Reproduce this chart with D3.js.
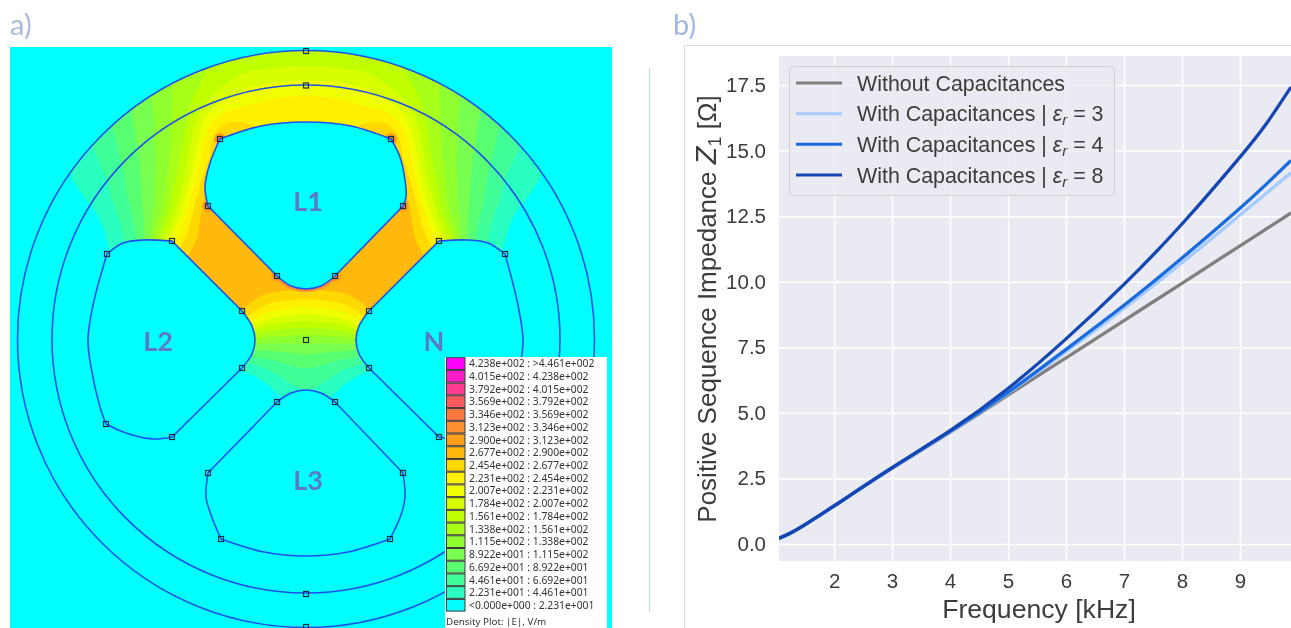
<!DOCTYPE html>
<html><head><meta charset="utf-8">
<script src="https://cdnjs.cloudflare.com/ajax/libs/d3/7.8.5/d3.min.js"></script>
<style>html,body{margin:0;padding:0;background:#fff;overflow:hidden}svg{display:block;filter:blur(0.45px)}</style>
</head><body><svg id="c" width="1291" height="628"></svg>
<script>
// ---------- panel b data ----------
const freq   = [1.05,1.25,1.5,2,3,4,5,6,7,8,9,9.46,9.88];
const zNoCap = [0.22,0.42,0.74,1.45,2.88,4.26,5.68,7.10,8.52,9.94,11.37,12.02,12.62];
const zEps3  = [0.22,0.42,0.74,1.45,2.89,4.28,5.75,7.33,8.98,10.72,12.54,13.38,14.15];
const zEps4  = [0.22,0.42,0.74,1.45,2.90,4.29,5.78,7.42,9.10,10.90,12.80,13.73,14.62];
const zEps8  = [0.22,0.42,0.74,1.45,2.91,4.32,5.93,7.82,9.90,12.20,14.75,16.04,17.42];
const seriesNames  = ["Without Capacitances","With Capacitances | ","With Capacitances | ","With Capacitances | "];
const seriesEps    = [null,"3","4","8"];
const seriesColors = ["#808080","#a6cbff","#1a6be0","#1446b4"];
const xTicks = [2,3,4,5,6,7,8,9];
const yTicks = [0,2.5,5,7.5,10,12.5,15,17.5];

// ---------- panel a data ----------
const legendLow  = ["4.238e+002","4.015e+002","3.792e+002","3.569e+002","3.346e+002","3.123e+002","2.900e+002","2.677e+002","2.454e+002","2.231e+002","2.007e+002","1.784e+002","1.561e+002","1.338e+002","1.115e+002","8.922e+001","6.692e+001","4.461e+001","2.231e+001","<0.000e+000"];
const legendHigh = [">4.461e+002","4.238e+002","4.015e+002","3.792e+002","3.569e+002","3.346e+002","3.123e+002","2.900e+002","2.677e+002","2.454e+002","2.231e+002","2.007e+002","1.784e+002","1.561e+002","1.338e+002","1.115e+002","8.922e+001","6.692e+001","4.461e+001","2.231e+001"];
const legendColors = ["#ff00ff","#ff1cc8","#ff3c90","#ff5a60","#ff7840","#ff9030","#ffa018","#ffb80c","#ffd800","#fff000","#f0ff00","#d8ff00","#c0ff00","#a8ff18","#90ff30","#78ff50","#58ff70","#40ff98","#28ffc0","#00ffff"];
const densityTitle = "Density Plot: |E|, V/m";
// |E| on a grid (left half + axis; the geometry is mirror-symmetric)
const gridDx = [0,20,40,60,80,100,120,140,160,180,200,220,240,260];
const gridY  = [-300,-280,-260,-240,-220,-200,-180,-160,-140,-120,-100,-80,-60,-40,-20,0,20,40,60,80];
const fieldE = [
 [160,160,160,158,155,150,143,127,108,90,68,45,22,6],
 [168,168,165,162,160,153,145,128,108,90,68,45,22,6],
 [200,198,195,190,172,158,143,131,108,88,68,45,22,6],
 [232,230,226,215,200,175,145,128,104,87,70,50,25,5],
 [238,238,238,242,245,210,150,127,100,83,62,44,22,5],
 [240,240,245,265,285,235,155,127,101,78,56,42,22,4],
 [240,240,245,250,255,250,168,125,97,72,52,34,19,3],
 [245,245,250,255,265,270,178,132,95,68,40,30,21,3],
 [260,265,270,275,285,285,207,130,95,64,36,23,8,2],
 [270,275,285,285,285,285,235,148,92,52,27,8,3,0],
 [285,285,285,285,285,282,252,200,85,45,20,5,0,0],
 [288,288,285,285,285,283,275,240,80,40,15,0,0,0],
 [289,289,288,285,285,285,280,240,30,10,0,0,0,0],
 [245,250,258,282,285,285,270,120,10,0,0,0,0,0],
 [178,188,200,250,260,180,30,0,0,0,0,0,0,0],
 [117,117,118,130,80,20,0,0,0,0,0,0,0,0],
 [78,72,60,50,20,0,0,0,0,0,0,0,0,0],
 [55,47,24,3,0,0,0,0,0,0,0,0,0,0],
 [40,25,3,0,0,0,0,0,0,0,0,0,0,0],
 [0,0,0,0,0,0,0,0,0,0,0,0,0,0]
];
const bandThresholds = [22.31,44.61,66.92,89.22,111.5,133.8,156.1,178.4,200.7,223.1,245.4,267.7,290,312.3,334.6,356.9,379.2,401.5,423.8];
const ringRadii = [288.5,254];
const slotL1 = [
 [[-86,-201],[-45,-214],[0,-218],[45,-214],[85,-201]],
 [[85,-201],[94,-183],[99,-160],[100,-143],[97,-134]],
 [[97,-134],[29,-64]],
 [[29,-64],[15,-54],[0,-51],[-15,-54],[-29,-64]],
 [[-29,-64],[-98,-134]],
 [[-98,-134],[-101,-153],[-96,-177],[-86,-201]]
];
const slotL3 = [
 [[-29,62],[-15,53],[0,50],[15,53],[29,62]],
 [[29,62],[97,133]],
 [[97,133],[99,157],[95,175],[84,199]],
 [[84,199],[42,212],[0,216],[-42,212],[-85,199]],
 [[-85,199],[-95,175],[-100,157],[-98,133]],
 [[-98,133],[-29,62]]
];
const slotL2 = [
 [[-134,-99],[-163,-100],[-183,-97],[-199,-86]],
 [[-199,-86],[-213,-35],[-218,0],[-215,27],[-206,67],[-200,84]],
 [[-200,84],[-180,93],[-153,99],[-134,97]],
 [[-134,97],[-64,28]],
 [[-64,28],[-54,14],[-51,0],[-54,-14],[-64,-29]],
 [[-64,-29],[-134,-99]]
];
const slotN = [
 [[133,-99],[162,-100],[182,-97],[199,-86]],
 [[199,-86],[212,-35],[217,0],[214,27],[205,67],[199,84]],
 [[199,84],[180,93],[153,99],[133,97]],
 [[133,97],[63,28]],
 [[63,28],[53,14],[50,0],[53,-14],[63,-29]],
 [[63,-29],[133,-99]]
];
const hotCorners = [[-86,-201],[85,-201],[-98,-134],[97,-134],[-29,-64],[29,-64]];
const extraNodes = [[0,-289],[0,-254.5],[0,0],[0,254],[0,287]];
const slotLabels = [["L1",2,-140],["L2",-148,0],["N",128,0],["L3",2,139]];

const svg = d3.select("#c");
const defs = svg.append("defs");

// ---------- panel a ----------
const femX = d3.scaleLinear().domain([-296,306]).range([10,612]);
const femY = d3.scaleLinear().domain([-293,288]).range([47,628]);
const femR = d3.scaleLinear().domain([0,100]).range([0,100]);

svg.append("text").attr("x",10).attr("y",35).attr("font-family","Lato").attr("font-size",29).attr("fill","#a9bbdc").text("a)");
svg.append("text").attr("x",673).attr("y",35).attr("font-family","Lato").attr("font-size",29).attr("fill","#9fb8e6").text("b)");

defs.append("clipPath").attr("id","panelA").append("rect")
  .attr("x",femX(-296)).attr("y",femY(-293)).attr("width",femX(306)-femX(-296)).attr("height",femY(288)-femY(-293));
defs.append("clipPath").attr("id","disk").append("circle")
  .attr("cx",femX(0)).attr("cy",femY(-1)).attr("r",femR(ringRadii[0]));

const fem = svg.append("g").attr("clip-path","url(#panelA)");
fem.append("rect").attr("x",femX(-296)).attr("y",femY(-293)).attr("width",602).attr("height",581).attr("fill","#00ffff");

// mirror the half grid into a full one, refine it for drawing and contour it
const baseCols = gridDx.length*2-1;
const baseRows = gridY.length;
const base = fieldE.map(row=>row.slice(1).reverse().concat(row));
const refine = 4;
const fullCols = (baseCols-1)*refine+1;
const fullRows = (baseRows-1)*refine+1;
const flat = new Float64Array(fullCols*fullRows);
for(let j=0;j<fullRows;j++){
  const v=j/refine, j0=Math.min(Math.floor(v),baseRows-2), tv=v-j0;
  for(let i=0;i<fullCols;i++){
    const u=i/refine, i0=Math.min(Math.floor(u),baseCols-2), tu=u-i0;
    flat[j*fullCols+i]=d3.interpolateNumber(
      d3.interpolateNumber(base[j0][i0],base[j0][i0+1])(tu),
      d3.interpolateNumber(base[j0+1][i0],base[j0+1][i0+1])(tu))(tv);
  }
}
d3.blur2({data:flat,width:fullCols,height:fullRows},1);
const contours = d3.contours().size([fullCols,fullRows]).thresholds(bandThresholds)(Array.from(flat));
const gridMapX = d3.scaleLinear().domain([0.5,fullCols-0.5]).range([femX(-gridDx[gridDx.length-1]),femX(gridDx[gridDx.length-1])]);
const gridMapY = d3.scaleLinear().domain([0.5,fullRows-0.5]).range([femY(gridY[0]),femY(gridY[gridY.length-1])]);
const geo = d3.geoPath(d3.geoTransform({point(x,y){this.stream.point(gridMapX(x),gridMapY(y));}}));
const bandColor = d3.scaleOrdinal().domain(bandThresholds).range(legendColors.slice(0,19).reverse());
fem.append("g").attr("clip-path","url(#disk)").selectAll("path").data(contours).join("path")
  .attr("d",geo).attr("fill",d=>bandColor(d.value));

// hot halos at the sharp slot corners
[[6,"#ffa018"],[3.5,"#ff7840"]].forEach(([r,c])=>{
  fem.append("g").selectAll("circle").data(hotCorners).join("circle")
    .attr("cx",d=>femX(d[0])).attr("cy",d=>femY(d[1])).attr("r",r).attr("fill",c);
});
const arc = d3.line().x(d=>femX(d[0])).y(d=>femY(d[1])).curve(d3.curveCatmullRom.alpha(0.5));
fem.append("path").attr("d",arc(slotL1[3])).attr("fill","none").attr("stroke","#ff9030").attr("stroke-width",6);

// rings
fem.selectAll("circle.ring").data(ringRadii).join("circle").attr("class","ring")
  .attr("cx",femX(0)).attr("cy",femY(-1)).attr("r",d=>femR(d))
  .attr("fill","none").attr("stroke","#2050ea").attr("stroke-width",1.6);

// slots
const slotPath = s=>s.map((sec,i)=>{const p=arc(sec);return i?p.replace(/^M/,"L"):p;}).join("")+"Z";
const slots=[slotL1,slotL2,slotN,slotL3];
fem.selectAll("path.slot").data(slots).join("path").attr("class","slot")
  .attr("d",slotPath).attr("fill","#00ffff").attr("stroke","#1f4ff0").attr("stroke-width",1.6);

// nodes
const nodes = extraNodes.concat(...slots.map(s=>s.map(sec=>sec[0])));
fem.selectAll("rect.node").data(nodes).join("rect").attr("class","node")
  .attr("x",d=>femX(d[0])-2.5).attr("y",d=>femY(d[1])-2.5).attr("width",5).attr("height",5)
  .attr("fill","none").attr("stroke","#16303c").attr("stroke-width",1.2);

fem.selectAll("text.lab").data(slotLabels).join("text").attr("class","lab")
  .attr("x",d=>femX(d[1])).attr("y",d=>femY(d[2])).attr("text-anchor","middle").attr("dominant-baseline","central")
  .attr("font-family","Lato").attr("font-weight",700).attr("font-size",27).attr("fill","#5b79c4").text(d=>d[0]);

// density legend
const legY = d3.scaleBand().domain(d3.range(legendLow.length)).range([357.2,611.6]);
const leg = svg.append("g");
leg.append("rect").attr("x",445).attr("y",357).attr("width",162).attr("height",271).attr("fill","#fff");
leg.selectAll("rect.sw").data(legendColors).join("rect").attr("class","sw")
  .attr("x",446.5).attr("y",(d,i)=>legY(i)+0.5).attr("width",18.5).attr("height",legY.bandwidth()-1)
  .attr("fill",d=>d).attr("stroke","#3a3a3a").attr("stroke-width",1);
leg.selectAll("text.lt").data(legendLow).join("text").attr("class","lt")
  .attr("x",469).attr("y",(d,i)=>legY(i)+legY.bandwidth()/2+3.7)
  .attr("font-family","'Noto Sans'").attr("font-size",10.3).attr("fill","#333")
  .text((d,i)=>d+" : "+legendHigh[i]);
leg.append("text").attr("x",446).attr("y",625).attr("font-family","'Noto Sans'").attr("font-size",9.8).attr("fill","#333").text(densityTitle);

// ---------- panel b ----------
svg.append("line").attr("x1",649.5).attr("x2",649.5).attr("y1",68).attr("y2",612).attr("stroke","#c9d6ee").attr("stroke-width",1.2);
svg.append("path").attr("d","M684.5,628V45.5H1291").attr("fill","none").attr("stroke","#dcdcdc").attr("stroke-width",1);

const x = d3.scaleLinear().domain([1.05,9.88]).range([779,1291]);
const y = d3.scaleLinear().domain([0,17.5]).range([544,85]);
const plotTop = 56, plotBottom = 561;
svg.append("rect").attr("x",779).attr("y",plotTop).attr("width",512).attr("height",plotBottom-plotTop).attr("fill","#eaeaf2");
const gx = svg.append("g").attr("transform",`translate(0,${plotBottom})`)
  .call(d3.axisBottom(x).tickValues(xTicks).tickSize(-(plotBottom-plotTop)).tickPadding(12).tickFormat(d3.format("d")));
const gy = svg.append("g").attr("transform","translate(779,0)")
  .call(d3.axisLeft(y).tickValues(yTicks).tickSize(-512).tickPadding(13).tickFormat(d3.format(".1f")));
[gx,gy].forEach(g=>{
  g.select(".domain").remove();
  g.selectAll(".tick line").attr("stroke","#fff").attr("stroke-width",1.5);
  g.selectAll(".tick text").attr("font-family","'Liberation Sans'").attr("font-size",20.5).attr("fill","#3c3c3c");
});
const line = d3.line().x((d,i)=>x(freq[i])).y(d=>y(d)).curve(d3.curveNatural);
defs.append("clipPath").attr("id","plotB").append("rect").attr("x",779).attr("y",plotTop).attr("width",512).attr("height",plotBottom-plotTop);
svg.append("g").attr("clip-path","url(#plotB)").selectAll("path").data([zNoCap,zEps3,zEps4,zEps8]).join("path")
  .attr("d",line).attr("fill","none").attr("stroke",(d,i)=>seriesColors[i]).attr("stroke-width",3.3);

svg.append("text").attr("x",1039).attr("y",618).attr("text-anchor","middle").attr("font-family","'Liberation Sans'").attr("font-size",26.6).attr("fill","#3c3c3c").text("Frequency [kHz]");
const yl = svg.append("text").attr("transform","translate(716,309) rotate(-90)").attr("text-anchor","middle")
  .attr("font-family","'Liberation Sans'").attr("font-size",26).attr("fill","#3c3c3c");
yl.append("tspan").text("Positive Sequence Impedance ");
yl.append("tspan").attr("font-style","italic").attr("font-family","'DejaVu Sans'").text("Z");
yl.append("tspan").attr("font-size",18).attr("dy",5).text("1");
yl.append("tspan").attr("dy",-5).text(" [Ω]");

const lg = svg.append("g");
lg.append("rect").attr("x",789.5).attr("y",66.5).attr("width",325).attr("height",129).attr("rx",4)
  .attr("fill","#eaeaf2").attr("fill-opacity",0.85).attr("stroke","#cfcfcf").attr("stroke-width",1);
const legRowY = d3.scaleLinear().domain([0,3]).range([83,175]);
seriesNames.forEach((n,i)=>{
  lg.append("line").attr("x1",796).attr("x2",842).attr("y1",legRowY(i)).attr("y2",legRowY(i))
    .attr("stroke",seriesColors[i]).attr("stroke-width",3);
  const t = lg.append("text").attr("x",857).attr("y",legRowY(i)+7.5).attr("font-family","'Liberation Sans'").attr("font-size",21.4).attr("fill","#3c3c3c");
  t.append("tspan").text(n);
  if(seriesEps[i]){
    t.append("tspan").attr("font-style","italic").text("ε");
    t.append("tspan").attr("font-style","italic").attr("font-size",15).attr("dy",4).text("r");
    t.append("tspan").attr("dy",-4).text(" = "+seriesEps[i]);
  }
});
</script></body></html>
